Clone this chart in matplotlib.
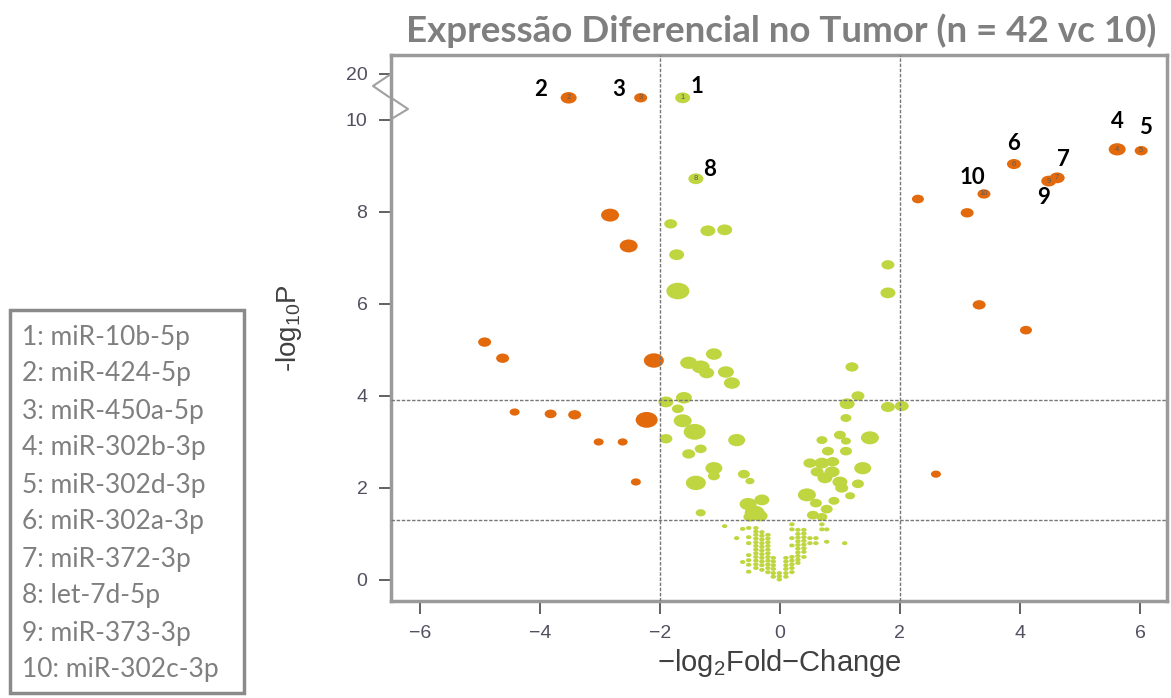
import numpy as np
import matplotlib

matplotlib.use("Agg")
import matplotlib.pyplot as plt  # noqa: E402
from matplotlib.lines import Line2D  # noqa: E402
from matplotlib.markers import MarkerStyle  # noqa: E402
from matplotlib.patches import Rectangle  # noqa: E402
from matplotlib.path import Path  # noqa: E402
from matplotlib.transforms import Affine2D  # noqa: E402

plt.rcParams["font.family"] = ["Liberation Sans", "DejaVu Sans"]
plt.rcParams["mathtext.default"] = "regular"

LARANJA = "#e36a0c"
VERDE = "#bfd640"
CINZA_TXT = "#7f7f7f"

# Limiares (linhas tracejadas)
LIMIAR_FC = 2.0
LIMIAR_P_BONF = 3.91
LIMIAR_P = 1.301

# miRNAs destacados (numerados na legenda)
dest_id = [1, 2, 3, 4, 5, 6, 7, 8, 9, 10]
dest_nome = ["miR-10b-5p", "miR-424-5p", "miR-450a-5p", "miR-302b-3p", "miR-302d-3p",
             "miR-302a-3p", "miR-372-3p", "let-7d-5p", "miR-373-3p", "miR-302c-3p"]
dest_fc = [-1.62, -3.52, -2.32, 5.62, 6.02, 3.90, 4.62, -1.40, 4.48, 3.40]
dest_p = [14.8, 14.8, 14.8, 9.36, 9.33, 9.04, 8.74, 8.72, 8.67, 8.39]
dest_peso = [15, 16, 13, 17, 13, 14, 15, 15, 15, 13]
dest_sig = [False, True, True, True, True, True, True, False, True, True]

# demais miRNAs significativos (|FC| > 2)
sig_fc = [2.30, 3.12, -2.83, -2.52, 3.32, 4.10, 2.60, -4.92, -4.62, -2.10,
          -4.42, -3.82, -3.42, -2.22, -3.02, -2.62, -2.40]
sig_p = [8.28, 7.98, 7.93, 7.26, 5.98, 5.43, 2.30, 5.17, 4.82, 4.77,
         3.65, 3.61, 3.59, 3.48, 3.00, 3.00, 2.13]
sig_peso = [12, 13, 18, 18, 13, 12, 10, 13, 13, 20, 10, 12, 13, 22, 10, 10, 10]

# miRNAs não significativos com p < 0.05
ns_fc = [-1.82, -1.20, -0.92, -1.72, -1.70, 1.80, 1.80, -1.10, -1.52, -1.32,
         -1.22, -0.90, -0.80, 1.20, 1.30, 1.12, 1.10, 1.80, 2.03, -1.90,
         -1.60, -1.70, -1.62, -1.42, -1.90, -0.72, -1.52, -1.32, -1.10, -1.10,
         -0.60, -0.50, -1.40, -1.32, -0.53, -0.42, -0.30, -0.50, -0.33, 1.00,
         1.10, 1.50, 0.70, 0.80, 1.10, 0.50, 0.70, 0.88, 0.62, 0.87,
         1.38, 0.75, 1.00, 1.30, 1.03, 1.17, 0.45, 0.60, 0.90, 0.78,
         0.55, 0.70]
ns_p = [7.74, 7.59, 7.61, 7.07, 6.28, 6.85, 6.24, 4.91, 4.72, 4.63,
        4.50, 4.52, 4.28, 4.63, 4.00, 3.83, 3.52, 3.76, 3.78, 3.87,
        3.96, 3.72, 3.46, 3.22, 3.07, 3.04, 2.74, 2.85, 2.43, 2.26,
        2.30, 2.15, 2.11, 1.46, 1.65, 1.46, 1.74, 1.37, 1.39, 3.15,
        3.02, 3.09, 3.04, 2.80, 2.80, 2.54, 2.54, 2.57, 2.35, 2.35,
        2.43, 2.22, 2.13, 2.09, 2.00, 1.83, 1.85, 1.67, 1.72, 1.54,
        1.41, 1.37]
ns_peso = [13, 15, 15, 15, 23, 13, 15, 16, 17, 18,
           15, 16, 16, 13, 13, 15, 11, 14, 14, 15,
           16, 12, 18, 22, 13, 17, 13, 12, 17, 12,
           12, 9, 20, 10, 17, 20, 15, 13, 15, 12,
           10, 18, 11, 12, 12, 13, 15, 13, 13, 15,
           17, 15, 15, 12, 13, 10, 18, 12, 11, 12,
           12, 11]

# miRNAs com p >= 0.05 (pontos pequenos, empilhados por FC)
fundo_fc_col = [-0.52, -0.40, -0.30, -0.20, -0.11, -0.01, 0.10, 0.20, 0.30, 0.40]
fundo_p_col = [
    [1.13, 0.93, 0.80, 0.54, 0.43, 0.33],
    [1.13, 1.05, 0.98, 0.90, 0.82, 0.74, 0.66, 0.58, 0.50, 0.42, 0.34, 0.26],
    [1.04, 0.96, 0.88, 0.80, 0.72, 0.64, 0.56, 0.48, 0.40, 0.32, 0.22],
    [0.98, 0.90, 0.82, 0.74, 0.66, 0.58, 0.50, 0.42, 0.34, 0.26, 0.17],
    [0.48, 0.40, 0.32, 0.24, 0.15, 0.07],
    [0.15, 0.08, 0.01],
    [0.48, 0.40, 0.32, 0.24, 0.15, 0.07],
    [1.21, 1.10, 0.91, 0.75, 0.50, 0.42, 0.34, 0.26, 0.17],
    [1.09, 1.00, 0.92, 0.84, 0.76, 0.68, 0.60, 0.52, 0.44, 0.37],
    [1.09, 1.01, 0.93, 0.85, 0.77, 0.69, 0.61, 0.50],
]
fundo_extra_fc = [0.50, 0.50, 0.60, 0.60, 0.70, 0.70, 0.78, 0.78, 1.08,
                  -0.92, -0.72, -0.62, -0.62, -0.52]
fundo_extra_p = [0.91, 0.80, 0.91, 0.80, 1.21, 1.10, 1.10, 0.83, 0.80,
                 1.17, 0.91, 1.11, 0.39, 0.18]

# deslocamento dos números (pontos tipográficos) em relação ao marcador
DESLOC = {1: (10, 8), 2: (-20, 6), 3: (-16, 6), 4: (0, 20), 5: (3, 16.5),
          6: (0, 14.5), 7: (4.5, 13), 8: (10, 6.5), 9: (-3.5, -11.5), 10: (-8, 11.5)}


def eixo_fwd(v):
    # acima de 10 o eixo é comprimido (10 -> 20 ocupa uma unidade)
    v = np.asarray(v, dtype=float)
    return np.where(v <= 10, v, 10 + (v - 10) / 10)


def eixo_inv(d):
    d = np.asarray(d, dtype=float)
    return np.where(d <= 10, d, 10 + (d - 10) * 10)


def area(peso):
    # peso = largura do marcador em px (dpi 100)
    return (np.asarray(peso, dtype=float) * 72 / 100) ** 2


elipse = MarkerStyle(Path.unit_circle().transformed(Affine2D().scale(1.0, 0.72)))

W, H = 1171, 698
fig = plt.figure(figsize=(W / 100, H / 100), dpi=100)
ax = fig.add_axes([391 / W, 1 - 601 / H, (1167 - 391) / W, (601 - 55) / H])
ax.set_yscale("function", functions=(eixo_fwd, eixo_inv))

# fundo
bx, by = [], []
for x, ys in zip(fundo_fc_col, fundo_p_col):
    bx += [x] * len(ys)
    by += ys
bx += fundo_extra_fc
by += fundo_extra_p
ax.scatter(bx, by, s=area([5.5] * len(bx)), marker=elipse, color=VERDE, edgecolors="none", zorder=2)

ax.scatter(ns_fc, ns_p, s=area(ns_peso), marker=elipse, color=VERDE, edgecolors="none", zorder=2)
ax.scatter(sig_fc, sig_p, s=area(sig_peso), marker=elipse, color=LARANJA, edgecolors="none", zorder=2)

cores = [LARANJA if s else VERDE for s in dest_sig]
ax.scatter(dest_fc, dest_p, s=area(dest_peso), marker=elipse, color=cores, edgecolors="none", zorder=2)
for i, x, y in zip(dest_id, dest_fc, dest_p):
    ax.text(x, y, str(i), fontsize=5.5, color="#5a5a5a", ha="center", va="center", zorder=4)
    ax.annotate(str(i), (x, y), xytext=DESLOC[i], textcoords="offset points",
                ha="center", va="center", fontsize=16, fontweight="bold",
                family=["Lato", "DejaVu Sans"], color="black", zorder=5)

# limiares
estilo = dict(color="#777777", lw=1.0, ls=(0, (2.5, 1.2)), zorder=3)
ax.axvline(-LIMIAR_FC, **estilo)
ax.axvline(LIMIAR_FC, **estilo)
ax.axhline(LIMIAR_P_BONF, **estilo)
ax.axhline(LIMIAR_P, **estilo)

ax.set_xlim(-6.48, 6.45)
ax.set_ylim(-0.457, eixo_inv(11.41))
ax.set_xticks([-6, -4, -2, 0, 2, 4, 6])
ax.set_xticklabels(["\u22126", "\u22124", "\u22122", "0", "2", "4", "6"])
ax.set_yticks([0, 2, 4, 6, 8, 10, 20])
ax.set_yticklabels(["0", "2", "4", "6", "8", "10", "20"])
ax.yaxis.set_minor_locator(matplotlib.ticker.NullLocator())
ax.tick_params(direction="out", length=9, width=1.3, color="#555555",
               labelsize=14, labelcolor="#505060", pad=8)
for sp in ax.spines.values():
    sp.set_color("#9a9a9a")
    sp.set_linewidth(2.5)

ax.set_xlabel("\u2212log$_2$Fold\u2212Change", fontsize=21, color="#404040", labelpad=4)
ax.set_ylabel("-log$_{10}$P", fontsize=20, color="#404040", labelpad=30)

# quebra do eixo y entre 10 e 20
for pts in ([(391, 74), (373, 86), (389, 97)], [(393, 99), (408, 109), (393, 118)]):
    xs = [p[0] / W for p in pts]
    ys = [1 - p[1] / H for p in pts]
    fig.add_artist(Line2D(xs, ys, transform=fig.transFigure, color="#a0a0a0", lw=1.5))

fig.text(781 / W, 1 - 31 / H, "Expressão Diferencial no Tumor (n = 42 vc 10)",
         ha="center", va="center", fontsize=26.5, fontweight="bold",
         family=["Lato", "DejaVu Sans"], color=CINZA_TXT)

# legenda dos números
fig.add_artist(Rectangle((10 / W, 1 - 693 / H), 234 / W, 383 / H, transform=fig.transFigure,
                         fill=False, edgecolor="#8a8a8a", lw=2.5))
for k, (i, nome) in enumerate(zip(dest_id, dest_nome)):
    fig.text(22 / W, 1 - (337 + 37 * k) / H, f"{i}: {nome}", ha="left", va="center",
             fontsize=19, family=["Lato", "DejaVu Sans"], color=CINZA_TXT)

fig.savefig("out.png", dpi=100)
